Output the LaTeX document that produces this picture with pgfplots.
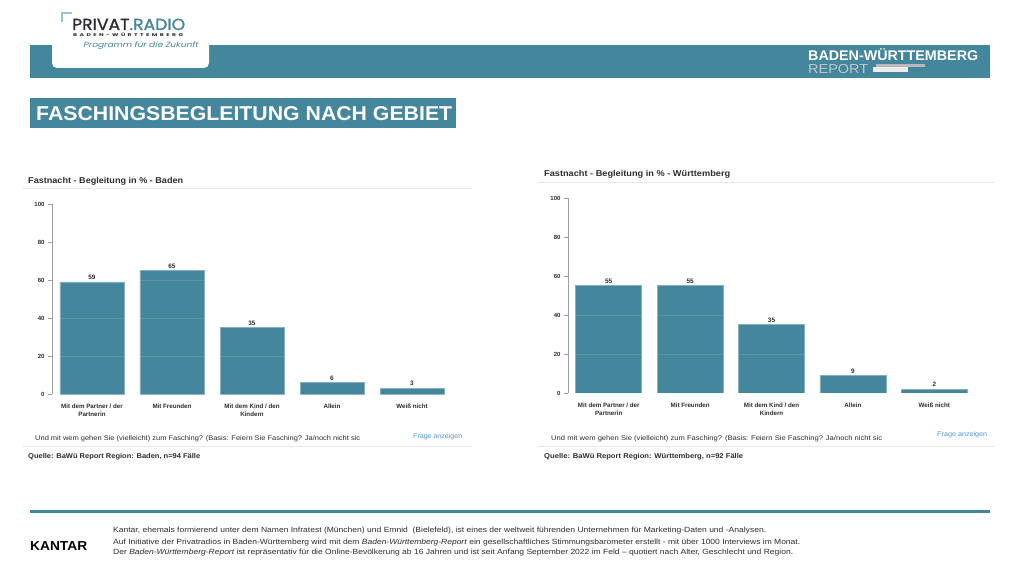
\documentclass[border=0pt]{standalone}
\usepackage{fontspec}
\setmainfont{Liberation Sans}
\usepackage{graphicx}
\usepackage{pgfplots}
\pgfplotsset{compat=1.18}
\newfontfamily\pop[FakeBold=1.2]{Poppins}
\newfontfamily\popsp[LetterSpace=40]{Poppins}
\newfontfamily\popit[FakeSlant=0.2]{Poppins}
\definecolor{teal1}{RGB}{68,134,155}
\definecolor{txt}{RGB}{45,45,45}
\definecolor{linkblue}{RGB}{80,150,215}
\definecolor{sepgray}{RGB}{232,232,232}
\definecolor{logoblue}{RGB}{150,195,215}
\definecolor{logodark}{RGB}{45,45,50}
\newcommand\fitw[2]{\resizebox{#1}{\height}{#2}}
\newcommand\fs[1]{\fontsize{#1}{#1}\selectfont}
\pgfplotsset{bawue/.style={
  scale only axis, ybar, ymin=0, ymax=100, ytick={0,20,...,100},
  xmin=-0.5, xmax=4.5, xtick={0,...,4},
  xticklabels={{Mit dem Partner / der\\Partnerin}, {Mit Freunden}, {Mit dem Kind / den\\Kindern}, {Allein}, {Weiß nicht}},
  axis lines*=left, x axis line style={draw=none},
  y axis line style={draw=gray!75, line width=0.7pt},
  xtick style={draw=none}, ytick style={draw=gray!75, line width=0.6pt},
  tick align=outside, major tick length=4pt,
  ymajorgrids, major grid style={white, opacity=0.12, line width=0.6pt}, axis on top,
  yticklabel style={font=\fs{6}\bfseries, text=txt},
  xticklabel style={font=\fontsize{6.2}{8}\selectfont\bfseries, text=txt, align=center, yshift=-2pt},
  /pgf/number format/assume math mode=true,
  nodes near coords, nodes near coords style={font=\fs{6.4}\bfseries, text=txt, inner sep=2pt},
}}
\begin{document}
\begin{tikzpicture}[x=1pt,y=1pt]
\useasboundingbox (0,0) rectangle (1019,573);
\fill[white] (0,0) rectangle (1019,573);
% header band
\fill[teal1] (30,495) rectangle (990,528);
\fill[white, rounded corners=5pt] (52,505) rectangle (209,590);
\draw[logoblue, line width=1.3pt] (62,551) -- (62,560) -- (72,560);
\node[anchor=base west, inner sep=0] at (72,543) {\fitw{113pt}{\pop\fs{16}\textcolor{logodark}{PRIVAT}\textcolor{teal1}{.RADIO}}};
\node[anchor=base west, inner sep=0] at (73,536) {\fitw{110pt}{\popsp\fs{4}\bfseries\textcolor{logodark}{BADEN-WÜRTTEMBERG}}};
\node[anchor=base west, inner sep=0] at (83,525) {\fitw{115pt}{\popit\fs{7.5}\textcolor{teal1}{Programm für die Zukunft}}};
% right header
\node[anchor=base west, inner sep=0] at (808,512) {\fitw{170pt}{\fs{14}\bfseries\textcolor{white}{BADEN-WÜRTTEMBERG}}};
\node[anchor=base west, inner sep=0] at (808,499) {\fitw{60pt}{\fs{13}\textcolor[RGB]{190,200,205}{REPORT}}};
\fill[gray!55] (876,505.5) rectangle (925,509);
\fill[gray!15] (873,501) rectangle (908,505.5);
% title box
\fill[teal1] (30,445) rectangle (456,475);
\node[anchor=base west, inner sep=0] at (36,452) {\fitw{416pt}{\fs{20}\bfseries\textcolor{white}{FASCHINGSBEGLEITUNG NACH GEBIET}}};
% left panel
\node[anchor=base west, inner sep=0] at (28,389) {\fitw{155pt}{\fs{8.5}\bfseries\textcolor{txt}{Fastnacht - Begleitung in \% - Baden}}};
\draw[sepgray, line width=0.8pt] (23,385) -- (472,385);
\node[anchor=base west, inner sep=0] at (35,132) {\fitw{325pt}{\fs{6.8}\textcolor{txt}{Und mit wem gehen Sie (vielleicht) zum Fasching? (Basis: Feiern Sie Fasching? Ja/noch nicht sic}}};
\node[anchor=base west, inner sep=0] at (413,135) {\fitw{49pt}{\fs{6.8}\textcolor{linkblue}{Frage anzeigen}}};
\draw[sepgray, line width=0.8pt] (23,127) -- (472,127);
\node[anchor=base west, inner sep=0] at (28,115) {\fitw{172pt}{\fs{7}\bfseries\textcolor{txt}{Quelle: BaWü Report Region: Baden, n=94 Fälle}}};
\begin{axis}[bawue, at={(52pt,179pt)}, anchor=south west, width=400pt, height=190pt, bar width=64pt]
\addplot[fill=teal1, draw=teal1!65!white, line width=0.5pt] coordinates {(0,59) (1,65) (2,35) (3,6) (4,3)};
\end{axis}
% right panel
\node[anchor=base west, inner sep=0] at (544,396) {\fitw{186pt}{\fs{8.5}\bfseries\textcolor{txt}{Fastnacht - Begleitung in \% - Württemberg}}};
\draw[sepgray, line width=0.8pt] (538,391) -- (995,391);
\node[anchor=base west, inner sep=0] at (551,132) {\fitw{331pt}{\fs{6.8}\textcolor{txt}{Und mit wem gehen Sie (vielleicht) zum Fasching? (Basis: Feiern Sie Fasching? Ja/noch nicht sic}}};
\node[anchor=base west, inner sep=0] at (937,136) {\fitw{50pt}{\fs{6.8}\textcolor{linkblue}{Frage anzeigen}}};
\draw[sepgray, line width=0.8pt] (538,127) -- (995,127);
\node[anchor=base west, inner sep=0] at (544,115) {\fitw{199pt}{\fs{7}\bfseries\textcolor{txt}{Quelle: BaWü Report Region: Württemberg, n=92 Fälle}}};
\begin{axis}[bawue, at={(568pt,180pt)}, anchor=south west, width=407pt, height=195pt, bar width=66pt]
\addplot[fill=teal1, draw=teal1!65!white, line width=0.5pt] coordinates {(0,55) (1,55) (2,35) (3,9) (4,2)};
\end{axis}
% footer
\draw[teal1, line width=3pt] (30,62) -- (990,62);
\node[anchor=base west, inner sep=0] at (30,23) {\fitw{57pt}{\fs{13}\bfseries\textcolor{black}{KANTAR}}};
\node[anchor=base west, inner sep=0] at (113,41) {\fitw{653pt}{\fs{7.5}\textcolor{txt}{Kantar, ehemals formierend unter dem Namen Infratest (München) und Emnid\ \ (Bielefeld), ist eines der weltweit führenden Unternehmen für Marketing-Daten und -Analysen.}}};
\node[anchor=base west, inner sep=0] at (113,29) {\fitw{687pt}{\fs{7.5}\textcolor{txt}{Auf Initiative der Privatradios in Baden-Württemberg wird mit dem \textit{Baden-Württemberg-Report} ein gesellschaftliches Stimmungsbarometer erstellt - mit über 1000 Interviews im Monat.}}};
\node[anchor=base west, inner sep=0] at (113,19) {\fitw{680pt}{\fs{7.5}\textcolor{txt}{Der \textit{Baden-Württemberg-Report} ist repräsentativ für die Online-Bevölkerung ab 16 Jahren und ist seit Anfang September 2022 im Feld -- quotiert nach Alter, Geschlecht und Region.}}};
\end{tikzpicture}
\end{document}
